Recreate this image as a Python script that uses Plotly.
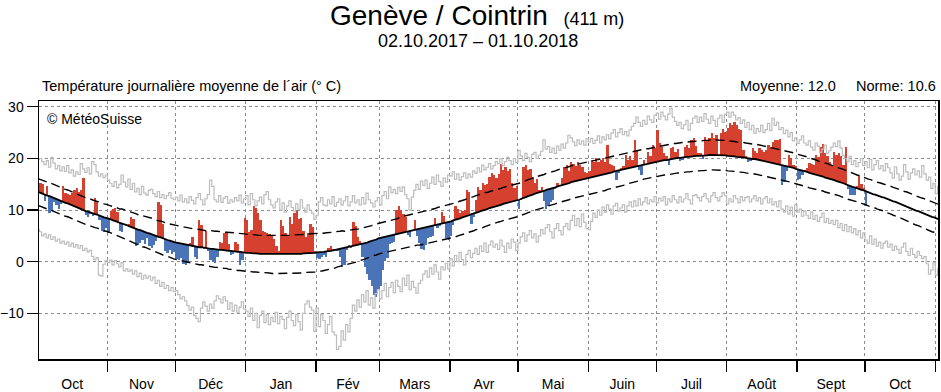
import pandas as pd
import plotly.graph_objects as go

# ---------------- data ----------------
month_labels = ["Oct", "Nov", "Déc", "Jan", "Fév", "Mars", "Avr", "Mai", "Juin", "Juil", "Août", "Sept", "Oct"]
month_starts = ["2017-10-01", "2017-11-01", "2017-12-01", "2018-01-01", "2018-02-01", "2018-03-01",
                "2018-04-01", "2018-05-01", "2018-06-01", "2018-07-01", "2018-08-01", "2018-09-01",
                "2018-10-01", "2018-11-01"]
y_ticks = [-10, 0, 10, 20, 30]

# daily mean temperature 02.10.2017 - 01.10.2018
temp = [
    15.3, 15.0, 11.8, 14.6, 9.5, 9.8, 11.5, 11.0, 10.3, 11.2, 14.6, 13.4, 13.2, 13.0, 13.4, 13.8, 14.3, 13.5, 13.9, 16.2,
    9.0, 8.6, 9.2, 8.8, 12.3, 11.8, 8.0, 6.0, 5.8, 6.5,
    5.5, 9.8, 10.3, 10.5, 9.6, 6.0, 5.8, 7.2, 7.0, 7.4, 8.6, 8.2, 3.0, 3.2, 3.6, 4.2, 3.4, 4.5, 3.0, 2.6,
    3.2, 4.0, 11.6, 11.0, 7.4, 2.0, 1.6, 2.2, 1.5, 1.8,
    0.5, 0.4, 0.8, -0.4, -0.6, -0.2, 3.6, 4.8, 1.0, 0.5, 8.0, 7.2, 2.5, 6.0, 2.0, 0.3, 0.0, -0.3, 1.0, 3.8,
    3.6, 5.6, 5.8, 3.4, 1.2, 1.5, 3.8, 3.5, -0.6, 0.4, 8.4,
    8.0, 5.8, 6.2, 10.7, 10.4, 9.4, 8.0, 6.0, 5.8, 5.5, 5.4, 5.0, 4.4, 3.0, 2.0, 8.1, 7.0, 5.6, 5.2, 8.7,
    7.4, 9.5, 10.0, 8.2, 8.4, 6.0, 4.8, 5.5, 7.4, 6.8, 2.0,
    0.8, 0.6, 1.0, 1.2, 1.0, 2.6, 3.0, 2.4, 2.5, 2.0, 1.0, -1.0, -0.6, 2.2, 3.2, 2.6, 7.7, 7.0, 4.8, 4.0,
    1.0, -1.0, -2.3, -3.5, -4.8, -6.5, -6.8, -5.5,
    -4.8, -1.6, 0.2, 0.8, 3.4, 3.6, 3.8, 10.0, 10.7, 10.0, 9.2, 8.7, 5.2, 4.8, 6.2, 8.1, 5.0, 3.6, 2.5, 2.3,
    3.2, 4.5, 4.8, 5.0, 8.4, 6.5, 7.0, 9.7, 8.8, 4.5, 4.2,
    5.0, 7.2, 10.7, 10.2, 9.4, 9.9, 10.0, 13.9, 13.5, 7.4, 8.6, 12.0, 14.5, 13.8, 15.2, 14.8, 15.0, 16.5, 17.1, 16.8,
    16.2, 17.0, 18.9, 17.8, 18.4, 17.6, 18.0, 15.2, 14.2, 14.6,
    10.3, 12.0, 18.4, 18.7, 17.8, 17.9, 16.5, 15.2, 16.0, 13.9, 14.5, 11.8, 10.3, 10.8, 11.5, 12.0, 14.0, 15.2, 14.8, 16.2,
    18.4, 18.7, 17.5, 19.4, 19.0, 18.5, 19.4, 18.8, 18.4, 17.4, 17.2,
    17.5, 19.7, 19.4, 20.0, 19.4, 19.8, 20.0, 19.4, 22.6, 19.0, 18.8, 18.5, 15.8, 17.2, 18.1, 18.5, 20.7, 19.7, 20.4, 19.8,
    23.6, 21.5, 17.8, 16.8, 19.7, 19.0, 21.3, 20.5, 22.6, 22.0,
    25.5, 23.0, 22.3, 21.0, 20.5, 18.8, 22.0, 22.3, 21.3, 21.8, 19.6, 19.8, 22.3, 22.6, 22.0, 23.6, 23.9, 22.5, 21.0, 21.0,
    19.9, 24.2, 23.5, 24.0, 24.9, 23.9, 24.5, 20.4, 25.0, 25.8, 25.2,
    26.0, 26.8, 26.5, 27.1, 26.5, 25.8, 25.5, 21.6, 20.5, 19.4, 19.5, 22.0, 21.5, 21.0, 22.0, 21.6, 21.3, 21.6, 22.6, 22.3,
    23.2, 23.6, 23.5, 23.7, 14.9, 15.5, 17.5, 20.7, 20.0, 18.7, 18.5,
    15.8, 16.0, 16.8, 17.7, 18.1, 19.1, 18.9, 18.7, 20.7, 20.2, 22.3, 22.9, 21.0, 20.5, 19.4, 18.6, 21.3, 20.7, 21.0, 20.5,
    18.7, 22.3, 14.0, 12.9, 13.0, 12.9, 14.6, 16.8, 15.0, 14.3,
    10.7,
]

# climatological norm, 01.10.2017 - 02.11.2018 (one value per day)
norm = [
    13.5, 13.3, 13.2, 13.0, 12.8, 12.7, 12.5, 12.3, 12.2, 12.0, 11.8,
    11.6, 11.4, 11.3, 11.1, 10.9, 10.7, 10.5, 10.4, 10.2, 10.0,
    9.8, 9.7, 9.5, 9.4, 9.2, 9.1, 8.9, 8.8, 8.6, 8.5, 8.4,
    8.2, 8.0, 7.9, 7.7, 7.5, 7.4, 7.2, 7.1, 6.9,
    6.7, 6.6, 6.4, 6.2, 6.1, 5.9, 5.8, 5.6, 5.5, 5.3,
    5.2, 5.0, 4.8, 4.7, 4.5, 4.4, 4.2, 4.1, 3.9, 3.8, 3.7,
    3.6, 3.5, 3.4, 3.3, 3.2, 3.1, 3.0, 3.0, 2.9,
    2.8, 2.8, 2.7, 2.6, 2.6, 2.5, 2.5, 2.4, 2.4, 2.3,
    2.3, 2.2, 2.2, 2.1, 2.1, 2.0, 2.0, 1.9, 1.9, 1.8, 1.8, 1.7,
    1.7, 1.6, 1.6, 1.6, 1.5, 1.5, 1.5, 1.5,
    1.4, 1.4, 1.4, 1.4, 1.4, 1.4, 1.4,
    1.4, 1.4, 1.4, 1.4, 1.4, 1.5, 1.5, 1.5,
    1.5, 1.6, 1.6, 1.6, 1.7, 1.7, 1.7, 1.8,
    1.8, 1.9, 1.9, 2.0, 2.0, 2.1, 2.2,
    2.3, 2.4, 2.5, 2.6, 2.6, 2.7, 2.8,
    2.9, 3.0, 3.1, 3.2, 3.3, 3.5, 3.6,
    3.7, 3.9, 4.0, 4.2, 4.3, 4.5, 4.6,
    4.7, 4.8, 4.9, 5.0, 5.1, 5.2, 5.3, 5.5, 5.6,
    5.7, 5.8, 5.9, 6.0, 6.1, 6.2, 6.3, 6.4, 6.5, 6.6,
    6.7, 6.8, 6.9, 7.0, 7.1, 7.2, 7.3, 7.4, 7.5, 7.6, 7.7, 7.8,
    8.0, 8.1, 8.3, 8.4, 8.6, 8.7, 8.9, 9.0,
    9.2, 9.3, 9.5, 9.6, 9.8, 9.9, 10.1, 10.2, 10.4, 10.5,
    10.6, 10.8, 10.9, 11.0, 11.2, 11.3, 11.4, 11.5, 11.6, 11.7, 11.9, 12.0,
    12.2, 12.3, 12.5, 12.7, 12.8, 13.0, 13.2, 13.3,
    13.4, 13.6, 13.7, 13.9, 14.0, 14.1, 14.3, 14.4, 14.6, 14.7,
    14.8, 15.0, 15.1, 15.2, 15.4, 15.5, 15.6, 15.7, 15.8, 15.9, 16.0, 16.2, 16.3,
    16.4, 16.5, 16.6, 16.7, 16.8, 16.9, 17.0, 17.1, 17.2, 17.3, 17.5, 17.6,
    17.7, 17.8, 17.9, 18.0, 18.1, 18.2, 18.3, 18.4, 18.6, 18.7,
    18.8, 18.9, 19.0, 19.0, 19.1, 19.2, 19.3, 19.4,
    19.5, 19.6, 19.7, 19.7, 19.8, 19.9, 20.0,
    20.0, 20.1, 20.1, 20.2, 20.2, 20.3, 20.3, 20.4, 20.4, 20.5,
    20.5, 20.5, 20.6, 20.6, 20.6, 20.7, 20.7, 20.7,
    20.7, 20.7, 20.6, 20.6, 20.6, 20.5,
    20.5, 20.4, 20.4, 20.3, 20.3, 20.2, 20.2, 20.1,
    20.0, 20.0, 19.9, 19.9, 19.8, 19.7, 19.7, 19.6,
    19.5, 19.4, 19.3, 19.2, 19.1, 19.0, 18.9, 18.8,
    18.7, 18.6, 18.4, 18.3, 18.2, 18.0, 17.9,
    17.8, 17.6, 17.5, 17.4, 17.2, 17.1, 17.0, 16.9, 16.7, 16.6,
    16.5, 16.3, 16.2, 16.0, 15.9, 15.8, 15.6, 15.5, 15.3, 15.2,
    15.0, 14.8, 14.7, 14.5, 14.4, 14.2, 14.1, 13.9, 13.8, 13.6,
    13.4, 13.3, 13.1, 13.0, 12.8, 12.7, 12.5, 12.4, 12.2, 12.1,
    11.9, 11.7, 11.6, 11.4, 11.2, 11.0, 10.8, 10.7, 10.5, 10.3,
    10.1, 9.9, 9.8, 9.6, 9.4, 9.3, 9.1, 8.9, 8.7, 8.6, 8.4, 8.2,
]

# standard deviation around the norm (dashed lines), one value per day
norm_sd = [
    2.6, 2.6, 2.6, 2.6, 2.6, 2.6, 2.6, 2.6, 2.6, 2.6, 2.6, 2.6, 2.6, 2.6, 2.6, 2.6,
    2.6, 2.6, 2.6, 2.6, 2.6, 2.6, 2.6, 2.6, 2.6, 2.6, 2.6, 2.6, 2.6, 2.6, 2.6, 2.6,
    2.6, 2.6, 2.7, 2.7, 2.7, 2.8, 2.8, 2.8, 2.8, 2.9, 2.9, 2.9, 2.9, 3.0, 3.0, 3.0, 3.0,
    3.1, 3.1, 3.1, 3.1, 3.1, 3.2, 3.2, 3.2, 3.2, 3.2, 3.3, 3.3, 3.3,
    3.3, 3.3, 3.3, 3.3, 3.3, 3.4, 3.4, 3.4, 3.4, 3.4, 3.4, 3.4, 3.4,
    3.5, 3.5, 3.5, 3.5, 3.5, 3.5, 3.5, 3.5, 3.5, 3.6, 3.6, 3.6, 3.6, 3.6, 3.6, 3.6, 3.6, 3.6,
    3.6, 3.6, 3.6, 3.6, 3.6, 3.6, 3.6, 3.6, 3.6, 3.6,
    3.7, 3.7, 3.7, 3.7, 3.7, 3.7, 3.7, 3.7, 3.7, 3.7, 3.7, 3.7, 3.7, 3.7, 3.7, 3.7, 3.7, 3.7, 3.7, 3.7, 3.7,
    3.7, 3.7, 3.6, 3.6, 3.6, 3.5, 3.5, 3.5, 3.4, 3.4, 3.4, 3.3, 3.3, 3.3, 3.2, 3.2, 3.2, 3.1, 3.1, 3.1, 3.1,
    3.0, 3.0, 3.0, 3.0, 3.0, 3.0, 3.0,
    3.0, 3.0, 3.0, 3.0, 3.0, 3.0, 3.0, 3.0, 3.1, 3.1, 3.1, 3.1, 3.1, 3.1, 3.1, 3.1,
    3.2, 3.2, 3.2, 3.2, 3.2, 3.2, 3.2, 3.2, 3.3, 3.3, 3.3, 3.3, 3.3, 3.3, 3.3,
    3.3, 3.3, 3.3, 3.3, 3.3, 3.3, 3.3, 3.3, 3.3, 3.3, 3.3, 3.3, 3.3, 3.3, 3.3,
    3.2, 3.2, 3.2, 3.2, 3.2, 3.2, 3.2, 3.2, 3.2, 3.2, 3.2, 3.2, 3.2, 3.2, 3.2,
    3.2, 3.2, 3.2, 3.2, 3.2, 3.2, 3.2, 3.2, 3.2, 3.2, 3.2, 3.2, 3.2, 3.2, 3.2, 3.2,
    3.2, 3.2, 3.2, 3.2, 3.2, 3.2, 3.2, 3.2, 3.2, 3.2, 3.2, 3.2, 3.2, 3.2, 3.2,
    3.2, 3.2, 3.2, 3.2, 3.2, 3.2, 3.2, 3.1, 3.1, 3.1, 3.1, 3.1, 3.1, 3.1, 3.1,
    3.0, 3.0, 3.0, 3.0, 3.0, 3.0, 3.0, 3.0, 2.9, 2.9, 2.9, 2.9, 2.9, 2.9, 2.9,
    2.9, 2.9, 2.9, 2.9, 2.9, 2.9, 2.9, 2.9, 2.9, 2.9, 2.9, 2.9, 2.9, 2.9, 2.9, 2.9,
    2.9, 2.9, 2.9, 2.9, 2.9, 2.9, 2.9, 2.9, 2.9, 2.9, 2.9, 2.9, 2.9, 2.9, 2.9,
    2.9, 2.9, 2.9, 2.9, 2.9, 2.9, 2.9, 2.9, 2.9, 2.9, 2.9, 2.9, 2.9, 2.9, 2.9, 2.9,
    2.9, 2.9, 2.9, 2.9, 2.9, 2.9, 2.9, 2.9, 2.9, 2.9, 2.9, 2.9, 2.9, 2.9, 2.9,
    2.9, 2.9, 2.9, 2.9, 2.9, 2.9, 2.9, 2.8, 2.8, 2.8, 2.8, 2.8, 2.8, 2.8, 2.8,
    2.7, 2.7, 2.7, 2.7, 2.7, 2.7, 2.7, 2.7, 2.6, 2.6, 2.6, 2.6, 2.6, 2.6, 2.6,
    2.6, 2.6, 2.6, 2.6, 2.6, 2.6, 2.6, 2.6, 2.7, 2.7, 2.7, 2.7, 2.7, 2.7, 2.7, 2.7,
    2.8, 2.8, 2.8, 2.8, 2.8, 2.8, 2.8, 2.8, 2.9, 2.9, 2.9, 2.9, 2.9, 2.9, 2.9, 2.9,
]

# highest daily mean on record, 01.10 - 02.11 (grey upper line)
rec_max = [
    19.8, 20.0, 19.4, 18.8, 19.6, 18.3, 20.2, 19.1, 18.0, 18.6, 17.6,
    18.4, 17.5, 18.6, 17.2, 17.8, 16.6, 17.4, 16.9, 19.0, 18.0,
    17.3, 18.2, 17.0, 19.4, 18.8, 17.4, 16.6, 17.0, 16.3, 16.8,
    15.8, 15.2, 14.6, 15.5, 14.3, 15.0, 16.8, 15.4, 14.5, 16.0,
    14.0, 15.2, 13.5, 14.2, 13.0, 14.6, 13.3, 12.9, 13.8, 14.0,
    13.2, 12.6, 13.6, 12.4, 13.0, 12.2, 12.8, 13.4, 12.3, 12.0,
    12.5, 11.8, 12.9, 11.6, 12.2, 11.4, 12.6, 11.9, 11.2, 12.4,
    13.2, 12.0, 11.0, 12.2, 13.0, 15.8, 14.6, 12.0, 11.6, 12.8,
    11.5, 12.3, 12.6, 11.3, 12.0, 11.6, 12.4, 11.8, 12.9, 11.4, 12.2,
    12.8, 11.0, 13.2, 12.0, 10.8, 11.8, 12.5, 11.2, 13.0, 13.6,
    12.0, 11.0, 10.4, 11.6, 12.2, 10.0, 11.4, 9.6, 10.8, 11.8, 10.5,
    9.8, 11.2, 10.2, 12.0, 10.4, 9.6, 11.0, 10.0, 9.4, 8.2,
    9.0, 11.6, 12.4, 11.0, 10.8, 12.0, 11.2, 12.6, 10.7, 11.5,
    12.2, 11.0, 11.8, 12.6, 10.8, 11.6, 12.8, 11.4, 12.0, 11.0,
    12.4, 11.2, 13.3, 12.0, 11.4, 10.6, 11.8, 12.4, 11.0,
    12.8, 13.6, 12.2, 14.5, 13.4, 14.0, 13.2, 14.4, 13.6,
    14.5, 13.0, 12.2, 10.0, 12.5, 13.8, 15.0, 14.0, 15.6, 14.8,
    15.8, 14.2, 15.2, 16.4, 15.0, 16.8, 15.5, 14.6, 16.2, 15.4, 16.8,
    16.6, 17.4, 16.0, 17.0, 15.8, 16.5, 17.2, 16.2, 17.0, 16.4, 17.6,
    17.1, 18.2, 17.4, 18.7, 17.8, 18.3, 19.0, 18.0, 18.6, 19.4,
    19.0, 20.0, 18.6, 19.4, 20.2, 19.6, 18.8, 20.0, 19.2, 21.6,
    20.5, 19.6, 21.0, 20.2, 19.4, 20.8, 21.2, 20.0, 20.6, 21.4,
    23.6, 21.8, 22.3, 21.2, 22.0, 21.0, 22.4, 21.6, 22.8, 22.0,
    23.0, 24.5, 24.0, 23.2, 22.5, 23.6, 22.8, 23.4, 22.6, 23.8,
    23.2, 23.9, 22.9, 23.5, 24.4, 23.0, 24.2, 23.6, 24.6, 23.8,
    24.9, 25.6, 24.2, 25.0, 25.8, 24.6, 25.2, 24.4, 25.5, 26.2,
    26.8, 28.0, 27.0, 26.2, 27.4, 26.6, 28.2, 27.5, 27.0, 28.4,
    28.8, 27.6, 29.0, 28.2, 27.5, 28.6, 29.7, 28.0, 27.2, 26.4,
    27.0, 25.8, 26.5, 27.4, 25.5, 26.8, 27.8, 28.2, 27.0,
    28.0, 27.2, 28.7, 27.6, 26.8, 28.2, 27.4, 26.2, 27.8, 28.4, 27.0, 28.6, 29.0,
    28.0, 29.0, 28.4, 27.5, 27.9, 26.8, 27.5, 26.0,
    27.0, 25.6, 26.4, 24.9, 25.8, 25.2, 26.4, 25.0,
    25.6, 26.8, 25.4, 27.8, 26.4, 27.0, 25.6, 26.0, 24.8, 25.5,
    24.2, 25.0, 23.4, 24.0, 22.9, 23.6, 24.4, 23.0, 22.6, 23.4,
    22.2, 21.6, 23.0, 22.4, 21.2, 21.8, 22.6, 21.0, 21.5, 22.2,
    23.0, 22.3, 23.4, 22.0, 20.6, 20.0,
    19.4, 20.4, 18.8, 19.6, 18.4, 19.2, 20.0, 18.6, 19.4,
    18.2, 19.8, 17.8, 18.8, 19.6, 18.0, 18.6, 17.6, 19.0, 18.2,
    17.2, 16.2, 18.4, 17.0, 15.8, 16.6, 18.8, 17.4, 16.0, 17.2,
    18.0, 16.8, 17.6, 16.4, 18.6, 17.0, 15.8, 16.4, 14.2, 15.2, 13.2, 14.6,
]

# lowest daily mean on record, 01.10 - 02.11 (grey lower line)
rec_min = [
    6.2, 5.8, 5.0, 5.4, 4.6, 5.2, 4.3, 4.8, 4.0, 4.4, 3.6,
    4.0, 3.4, 3.8, 3.0, 3.6, 2.8, 3.3, 2.6, 3.1, 2.2,
    2.6, 1.9, 2.2, 1.0, 0.4, 0.8, -2.6, -2.8, -0.5, 0.2,
    -0.2, 0.3, -0.6, 0.2, -0.4, -1.0, -0.2, -1.8, -1.4, -1.9,
    -1.6, -2.4, -1.8, -2.9, -2.2, -3.4, -2.6, -3.2, -2.8, -3.6,
    -3.0, -4.2, -3.6, -4.8, -4.0, -5.2, -4.6, -5.6, -5.0, -5.8,
    -5.6, -6.4, -7.2, -6.8, -7.6, -8.5, -9.4, -8.8, -10.4, -11.0,
    -11.6, -9.0, -7.8, -8.6, -9.6, -8.2, -9.0, -7.6, -6.6, -7.2,
    -8.0, -6.8, -7.6, -9.2, -8.0, -9.6, -8.4, -9.8, -8.8, -7.8, -9.2,
    -9.6, -10.6, -9.0, -11.4, -10.0, -12.8, -10.4, -9.6, -11.8, -10.2,
    -12.2, -10.8, -11.6, -9.8, -12.0, -10.6, -11.2, -13.0, -10.8, -9.6, -11.4,
    -12.4, -10.2, -11.6, -13.2, -10.0, -8.2, -7.6, -8.8, -9.4, -13.5,
    -9.0, -12.6, -10.2, -11.4, -13.9, -12.2, -10.6, -13.6, -14.2, -17.0,
    -16.4, -13.4, -15.2, -12.2, -13.6, -11.0, -8.4, -9.6, -7.4, -8.8,
    -6.4, -7.8, -5.6, -8.4, -7.0, -9.0, -6.2, -5.4, -7.2,
    -5.6, -4.2, -6.8, -5.0, -4.0, -6.0, -3.6, -4.8, -5.8,
    -3.2, -4.6, -2.6, -5.4, -3.8, -5.0, -6.1, -4.2, -3.6, -2.4,
    -1.8, -3.0, -1.2, -2.4, -0.6, -2.0, -3.4, -1.0, -1.6, -0.3, -1.4,
    0.6, -0.8, 1.2, 0.0, 1.8, 0.4, -0.6, 1.4, 2.2, 0.8, 1.6,
    2.6, 1.4, 3.0, 2.0, 3.6, 1.8, 3.2, 4.0, 2.8, 3.4,
    2.4, 4.2, 3.0, 1.8, 3.6, 2.6, 4.4, 3.8, 2.2, 3.6,
    4.8, 5.6, 4.0, 5.2, 6.0, 4.6, 5.4, 3.8, 5.0, 6.2,
    5.4, 6.6, 7.2, 5.8, 4.6, 6.4, 7.4, 6.0, 5.2, 6.8,
    7.4, 6.2, 8.0, 9.0, 7.0, 8.4, 6.8, 9.2, 7.6, 6.4,
    6.2, 7.8, 9.4, 8.6, 10.0, 9.0, 10.6, 9.6, 11.0, 10.2,
    9.2, 10.8, 11.3, 9.8, 10.4, 11.0, 9.6, 10.8, 11.6, 10.6,
    11.8, 10.8, 12.2, 11.0, 11.6, 12.4, 11.2, 12.0, 11.6, 12.6,
    11.4, 12.3, 11.8, 12.6, 11.0, 12.2, 11.6, 12.8, 12.0, 11.4,
    12.6, 11.6, 12.2, 13.2, 12.0, 11.2, 12.8, 13.0, 12.4,
    11.8, 12.6, 13.2, 12.2, 11.6, 12.8, 13.4, 12.4, 11.8, 12.6, 13.4, 12.8, 11.2,
    12.2, 11.6, 12.8, 12.2, 11.4, 12.6, 11.8, 12.4,
    12.6, 11.6, 12.2, 12.8, 11.8, 12.4, 11.2, 12.2,
    12.6, 11.4, 12.2, 11.0, 11.6, 10.6, 11.8, 10.2, 9.6, 10.8,
    9.2, 10.6, 8.8, 11.0, 9.6, 10.2, 8.8, 9.8, 9.0, 8.4,
    9.6, 8.2, 9.0, 7.8, 8.6, 9.4, 7.6, 8.4, 7.4, 8.0,
    7.2, 8.0, 6.6, 7.4, 6.0, 7.2, 5.8, 6.8, 5.6, 6.4,
    5.2, 6.0, 4.6, 5.6, 4.2, 3.6, 5.0, 3.4, 4.4, 3.0,
    3.8, 2.6, 3.6, 4.0, 2.8, 3.4, 2.2, 3.0, 2.4, 1.6,
    2.8, 3.6, 2.0, 1.2, 2.6, 1.4, 0.8, 2.0, 1.2, 0.6,
    1.0, -0.4, -2.4, -1.6, -0.2, -2.6, -1.4,
]

title_station = "Genève / Cointrin"
title_alt = "(411 m)"
title_period = "02.10.2017 – 01.10.2018"
label_left = "Température journalière moyenne de l´air (° C)"
label_mean = "Moyenne: 12.0"
label_norm = "Norme: 10.6"
label_copy = "© MétéoSuisse"

# ---------------- positions ----------------
t0 = pd.Timestamp("2017-10-01")


def day_pos(d):
    return t0 + pd.Timedelta(days=d, hours=12)


n_clim = min(len(norm), len(norm_sd))
x_clim = [day_pos(d) for d in range(n_clim)]
x_max = [day_pos(d) for d in range(len(rec_max))]
x_min = [day_pos(d) for d in range(len(rec_min))]
x_temp = [day_pos(d + 1) for d in range(len(temp))]
base = [norm[d + 1] for d in range(len(temp))]
diff = [t - b for t, b in zip(temp, base)]
colors = ["#d5402f" if v >= 0 else "#4a73b8" for v in diff]

starts = [pd.Timestamp(s) for s in month_starts]
mids = [starts[i] + (starts[i + 1] - starts[i]) / 2 for i in range(len(starts) - 1)]

FONT = "Liberation Sans, Arial, Helvetica, sans-serif"
GREY = "#bdbdbd"

fig = go.Figure()
fig.add_trace(go.Scatter(x=x_max, y=rec_max, mode="lines",
                         line=dict(color=GREY, width=1.2, shape="hvh"), hoverinfo="skip"))
fig.add_trace(go.Scatter(x=x_min, y=rec_min, mode="lines",
                         line=dict(color=GREY, width=1.2, shape="hvh"), hoverinfo="skip"))
fig.add_trace(go.Bar(x=x_temp, y=diff, base=base, width=86400000,
                     marker=dict(color=colors, line=dict(width=0))))
fig.add_trace(go.Scatter(x=x_clim, y=[norm[i] + norm_sd[i] for i in range(n_clim)], mode="lines",
                         line=dict(color="black", width=1.4, dash="9px,5px")))
fig.add_trace(go.Scatter(x=x_clim, y=[norm[i] - norm_sd[i] for i in range(n_clim)], mode="lines",
                         line=dict(color="black", width=1.4, dash="9px,5px")))
fig.add_trace(go.Scatter(x=x_clim, y=norm[:n_clim], mode="lines",
                         line=dict(color="black", width=1.8)))

# pixel helpers for the plot box
L, R, T, B = 39, 3, 101, 33
W, H = 941, 392
PW, PH = W - L - R, H - T - B


def px(x):
    return (x - L) / PW


def py(y):
    return (H - B - y) / PH


ann = [
    dict(text=title_station + "  <span style='font-size:18px'>" + title_alt + "</span>",
         x=px(328), y=py(15), xanchor="left", yanchor="middle", font=dict(size=28)),
    dict(text=title_period, x=px(478), y=py(41), xanchor="center", yanchor="middle", font=dict(size=18)),
    dict(text=label_left, x=px(40), y=py(86), xanchor="left", yanchor="middle", font=dict(size=14.5)),
    dict(text=label_mean, x=px(738), y=py(86), xanchor="left", yanchor="middle", font=dict(size=14.5)),
    dict(text=label_norm, x=px(938), y=py(86), xanchor="right", yanchor="middle", font=dict(size=14.5)),
    dict(text=label_copy, x=px(45), y=py(119), xanchor="left", yanchor="middle", font=dict(size=14)),
]
for a in ann:
    a.update(xref="paper", yref="paper", showarrow=False)
    a["font"].update(family=FONT, color="black")

fig.update_layout(
    width=W, height=H, autosize=False,
    margin=dict(l=L, r=R, t=T, b=B, pad=0, autoexpand=False),
    paper_bgcolor="white", plot_bgcolor="white",
    showlegend=False, bargap=0,
    font=dict(family=FONT, size=14, color="black"),
    annotations=ann,
    xaxis=dict(
        type="date", automargin=False,
        range=[pd.Timestamp("2017-10-01 20:00"), pd.Timestamp("2018-11-02 05:00")],
        tickmode="array", tickvals=mids, ticktext=month_labels,
        ticks="outside", ticklen=12, tickcolor="rgba(0,0,0,0)",
        showgrid=False, zeroline=False,
        showline=True, linecolor="black", linewidth=1.5, mirror=True,
        tickfont=dict(size=14, family=FONT, color="black"),
        minor=dict(tickmode="array", tickvals=starts, ticks="outside", ticklen=11,
                   tickcolor="black", tickwidth=1.2, showgrid=True,
                   gridcolor="#8c8c8c", griddash="dot", gridwidth=1),
    ),
    yaxis=dict(
        range=[-18.86, 31.14], automargin=False,
        tickmode="array", tickvals=y_ticks,
        ticks="outside", ticklen=11, tickcolor="black", tickwidth=1.2,
        showgrid=True, gridcolor="#8c8c8c", griddash="dot", gridwidth=1,
        zeroline=False,
        showline=True, linecolor="black", linewidth=1.5, mirror=True,
        tickfont=dict(size=14, family=FONT, color="black"),
    ),
)

fig.write_html(
    "out.html",
    config={"displayModeBar": False, "staticPlot": True},
    post_script="document.body.style.margin='0';document.body.style.overflow='hidden';",
)
